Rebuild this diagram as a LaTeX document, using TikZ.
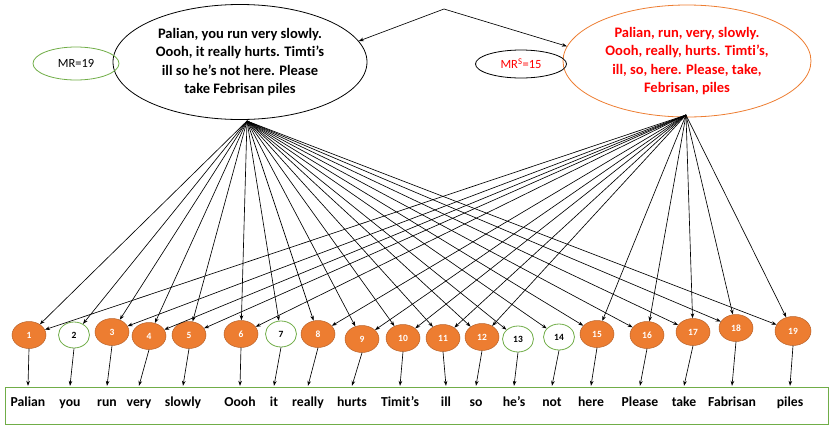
\documentclass[tikz,border=0pt]{standalone}
\usepackage{fontspec}
\setmainfont[Ligatures=NoCommon]{Carlito}
\usetikzlibrary{arrows.meta,shapes.geometric}
\definecolor{orng}{HTML}{ED7D31}
\definecolor{orngdk}{HTML}{B9622A}
\definecolor{grn}{HTML}{70AD47}
\definecolor{redtxt}{HTML}{FF0000}
\begin{document}
\begin{tikzpicture}[x=1pt,y=-1pt,
  arr/.style={-{Stealth[length=5pt,width=3.6pt]}, line width=0.65pt},
  numfont/.style={font=\bfseries\fontsize{9.5}{11}\selectfont},
  onode/.style={ellipse, fill=orng, draw=orngdk, line width=0.5pt, minimum width=34pt, minimum height=27pt, inner sep=0pt, text=white, numfont},
  gnode/.style={ellipse, fill=white, draw=grn, line width=0.8pt, minimum width=31pt, minimum height=26pt, inner sep=0pt, text=black, numfont},
  wordnode/.style={anchor=base, font=\bfseries\fontsize{13.7}{16}\selectfont, text height=10pt, inner ysep=10pt, inner xsep=1pt},
  bigell/.style={ellipse, inner sep=0pt, align=center, line width=0.8pt, font=\bfseries\fontsize{14.5}{18.3}\selectfont},
  mrell/.style={ellipse, inner sep=0pt, line width=0.8pt, font=\fontsize{12.5}{14}\selectfont}
]
\useasboundingbox (0,0) rectangle (831,432);

% top ellipses
\node[bigell, draw=black, minimum width=254pt, minimum height=115pt] (L) at (240,62)
  {Palian, you run very slowly.\\Oooh, it really hurts. Timti’s\\ill so he’s not here. Please\\take Febrisan piles};
\node[bigell, draw=orng, text=redtxt, minimum width=248pt, minimum height=112pt] (R) at (687,61)
  {Palian, run, very, slowly.\\Oooh, really, hurts. Timti’s,\\ill, so, here. Please, take,\\Febrisan, piles};
\node[mrell, draw=grn, minimum width=86pt, minimum height=33pt] (mr1) at (76,63.5) {MR=19};
\node[mrell, draw=black, text=redtxt, minimum width=91pt, minimum height=28pt] (mr2) at (521,64) {MR\textsuperscript{S}=15};

\coordinate (apex) at (444,9);
\draw[arr] (apex) -- (L.10);
\draw[arr] (apex) -- (R.173);

\coordinate (lo) at (247,121);
\coordinate (ro) at (686,115);

% word box
\draw[grn, line width=0.9pt] (5,387) rectangle (828,424);

% circles
\node[onode] (c1) at (29,335) {1};
\node[gnode] (c2) at (74,335) {2};
\node[onode] (c3) at (112,332) {3};
\node[onode] (c4) at (149,336) {4};
\node[onode] (c5) at (189,335) {5};
\node[onode] (c6) at (241,334) {6};
\node[gnode] (c7) at (281,334) {7};
\node[onode] (c8) at (318,334) {8};
\node[onode] (c9) at (362,339) {9};
\node[onode] (c10) at (403,338) {10};
\node[onode] (c11) at (443,338) {11};
\node[onode] (c12) at (482,337) {12};
\node[gnode] (c13) at (518,339) {13};
\node[gnode] (c14) at (559,337) {14};
\node[onode] (c15) at (597,334) {15};
\node[onode] (c16) at (647,335) {16};
\node[onode] (c17) at (693,332) {17};
\node[onode] (c18) at (736,328) {18};
\node[onode, minimum width=36pt, minimum height=29pt] (c19) at (793,331) {19};

% words
\node[wordnode] (w1) at (28,406) {Palian};
\node[wordnode] (w2) at (70,406) {you};
\node[wordnode] (w3) at (107,406) {run};
\node[wordnode] (w4) at (139,406) {very};
\node[wordnode] (w5) at (183,406) {slowly};
\node[wordnode] (w6) at (240,406) {Oooh};
\node[wordnode] (w7) at (274,406) {it};
\node[wordnode] (w8) at (308,406) {really};
\node[wordnode] (w9) at (352,406) {hurts};
\node[wordnode] (w10) at (400,406) {Timit’s};
\node[wordnode] (w11) at (446,406) {ill};
\node[wordnode] (w12) at (476,406) {so};
\node[wordnode] (w13) at (514,406) {he’s};
\node[wordnode] (w14) at (552,406) {not};
\node[wordnode] (w15) at (591,406) {here};
\node[wordnode] (w16) at (640,406) {Please};
\node[wordnode] (w17) at (684,406) {take};
\node[wordnode] (w18) at (732,406) {Fabrisan};
\node[wordnode] (w19) at (790,406) {piles};

% connectors
\foreach \i in {1,...,19} \draw[arr] (lo) -- (c\i);
\foreach \i in {1,3,4,5,6,8,9,10,11,12,15,16,17,18,19} \draw[arr] (ro) -- (c\i);
\foreach \i in {1,...,19} \draw[arr] (c\i.south) -- (w\i.north);
\end{tikzpicture}
\end{document}
